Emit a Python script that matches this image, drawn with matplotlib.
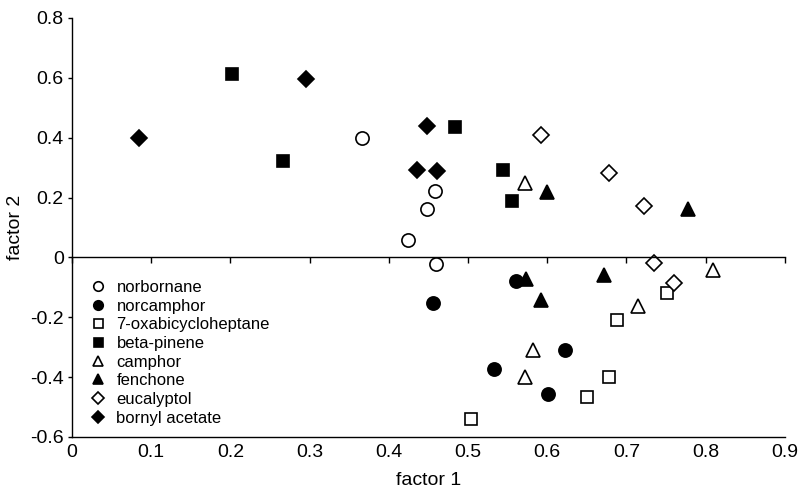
import matplotlib
matplotlib.use("Agg")
import matplotlib.pyplot as plt

plt.rcParams["font.family"] = ["Liberation Sans", "DejaVu Sans"]

# factor loadings, one list pair per compound
norbornane_x = [0.366, 0.458, 0.448, 0.424, 0.460]
norbornane_y = [0.400, 0.223, 0.163, 0.057, -0.023]
norcamphor_x = [0.561, 0.456, 0.622, 0.533, 0.601]
norcamphor_y = [-0.080, -0.153, -0.310, -0.373, -0.457]
oxa_x = [0.751, 0.688, 0.678, 0.650, 0.504]
oxa_y = [-0.120, -0.210, -0.400, -0.467, -0.540]
pinene_x = [0.202, 0.266, 0.484, 0.544, 0.556]
pinene_y = [0.613, 0.323, 0.437, 0.293, 0.187]
camphor_x = [0.572, 0.809, 0.715, 0.582, 0.572]
camphor_y = [0.247, -0.043, -0.163, -0.310, -0.400]
fenchone_x = [0.600, 0.778, 0.573, 0.672, 0.592]
fenchone_y = [0.220, 0.163, -0.073, -0.060, -0.143]
eucalyptol_x = [0.592, 0.678, 0.722, 0.735, 0.760]
eucalyptol_y = [0.410, 0.283, 0.173, -0.020, -0.087]
bornyl_x = [0.085, 0.295, 0.448, 0.436, 0.461]
bornyl_y = [0.400, 0.595, 0.440, 0.293, 0.287]

labels = ["norbornane", "norcamphor", "7-oxabicycloheptane", "beta-pinene",
          "camphor", "fenchone", "eucalyptol", "bornyl acetate"]

xticks = [0, 0.1, 0.2, 0.3, 0.4, 0.5, 0.6, 0.7, 0.8, 0.9]
xticklabels = ["0", "0.1", "0.2", "0.3", "0.4", "0.5", "0.6", "0.7", "0.8", "0.9"]
yticks = [-0.6, -0.4, -0.2, 0, 0.2, 0.4, 0.6, 0.8]
yticklabels = ["-0.6", "-0.4", "-0.2", "0", "0.2", "0.4", "0.6", "0.8"]

series = [
    (norbornane_x, norbornane_y, "o", "white", 9.5),
    (norcamphor_x, norcamphor_y, "o", "black", 9.5),
    (oxa_x, oxa_y, "s", "white", 9),
    (pinene_x, pinene_y, "s", "black", 9),
    (camphor_x, camphor_y, "^", "white", 10.5),
    (fenchone_x, fenchone_y, "^", "black", 10.5),
    (eucalyptol_x, eucalyptol_y, "D", "white", 8),
    (bornyl_x, bornyl_y, "D", "black", 8),
]

fig = plt.figure(figsize=(8, 4.98), dpi=100)
ax = fig.add_axes([0.09, 0.1225, 0.891, 0.8415])

for (xs, ys, m, fc, ms), lab in zip(series, labels):
    ax.plot(xs, ys, linestyle="none", marker=m, markersize=ms,
            markerfacecolor=fc, markeredgecolor="black", markeredgewidth=1.2,
            label=lab, clip_on=False)

ax.set_xlim(0, 0.9)
ax.set_ylim(-0.6, 0.8)
ax.set_xticks(xticks)
ax.set_xticklabels(xticklabels)
ax.set_yticks(yticks)
ax.set_yticklabels(yticklabels)

# zero line carries the x ticks, bottom spine carries the labels
ax.spines["right"].set_visible(False)
ax.spines["top"].set_position(("data", 0))
for s in ("left", "bottom", "top"):
    ax.spines[s].set_linewidth(1.0)
ax.tick_params(axis="x", top=True, bottom=False, labeltop=False,
               labelbottom=True, direction="in", length=4, width=1.0,
               pad=5, labelsize=14)
ax.tick_params(axis="y", direction="out", length=3, width=1.0, pad=3,
               labelsize=14)

ax.set_xlabel("factor 1", fontsize=14, labelpad=8)
ax.set_ylabel("factor 2", fontsize=14, labelpad=4)

ax.legend(loc="upper left", bbox_to_anchor=(0.025, 0.375), frameon=False,
          borderaxespad=0, borderpad=0, markerscale=0.72, handlelength=1.0,
          handletextpad=0.6, labelspacing=0.22, fontsize=12)

fig.savefig("out.png", dpi=100)
